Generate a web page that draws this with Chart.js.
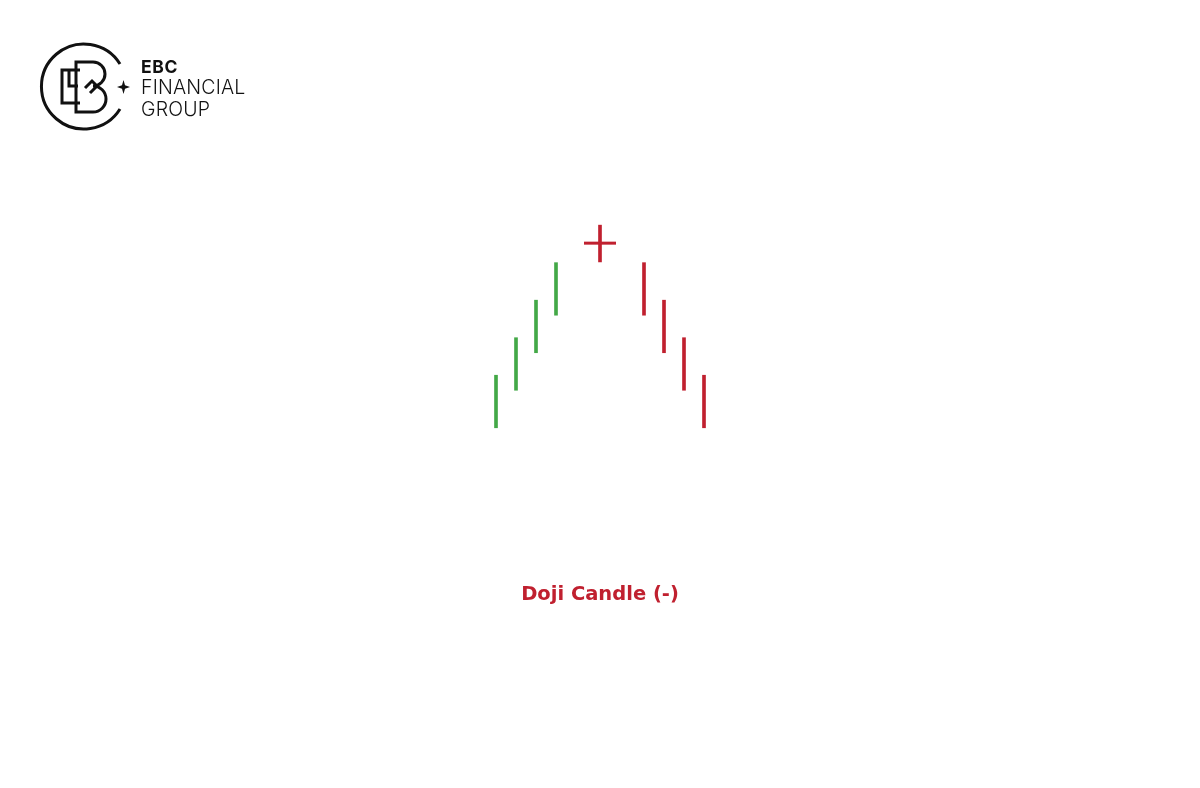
<!DOCTYPE html>
<html>
<head>
<meta charset="utf-8">
<script src="https://cdn.jsdelivr.net/npm/chart.js@4.4.1/dist/chart.umd.min.js"></script>
<style>
  html, body { margin: 0; padding: 0; background: #ffffff; }
  #wrap { position: relative; width: 1200px; height: 788px; overflow: hidden; }
  #chartBox { position: absolute; left: 0; top: 0; width: 1200px; height: 788px; }
  .brand { position: absolute; left: 141px; color: #111; white-space: nowrap; }
  #brandEbc { top: 56px; font: 700 17.5px "Inter", "DejaVu Sans", sans-serif; letter-spacing: 0.6px; }
  #brandFin { top: 75px; font: 300 19.5px "Inter", "DejaVu Sans", sans-serif; letter-spacing: 0.2px; }
  #brandGrp { top: 97px; font: 300 19.5px "Inter", "DejaVu Sans", sans-serif; letter-spacing: 0.2px; }
  #title { position: absolute; left: 0; width: 1200px; top: 582px; text-align: center;
           font: 700 19.5px "DejaVu Sans", Verdana, sans-serif; color: #c0202f; }
</style>
</head>
<body>
<div id="wrap">
  <div id="chartBox"><canvas id="candleChart"></canvas></div>

  <!-- logo mark -->
  <svg id="logo" width="140" height="140" style="position:absolute;left:0;top:0" viewBox="0 0 140 140">
    <g fill="none" stroke="#111" stroke-width="3" stroke-linejoin="miter">
      <path d="M 120 64 A 42.5 42.5 0 1 0 120 109" />
      <path d="M 80 70 H 62 V 103 H 80" />
      <path d="M 69 70 V 86 H 78" />
      <path d="M 76 62 H 93 A 12 12 0 0 1 93 86 A 13 13 0 0 1 93 112 H 76 Z" />
      <path d="M 85 88 L 92 81 L 97 86 L 90 93" />
    </g>
    <path d="M 123.5 80 L 125 85.3 L 130 87 L 125 88.7 L 123.5 94 L 122 88.7 L 117 87 L 122 85.3 Z" fill="#111" />
  </svg>
  <div class="brand" id="brandEbc">EBC</div>
  <div class="brand" id="brandFin">FINANCIAL</div>
  <div class="brand" id="brandGrp">GROUP</div>

  <div id="title">Doji Candle (-)</div>
</div>

<script>
// candle data (price units), x positions along the session axis
const candleX = [0, 1, 2, 3, 5.2, 7.4, 8.4, 9.4, 10.4];
const opens   = [0, 5, 10, 15, 24.6, 22, 17, 12, 7];
const closes  = [7, 12, 17, 22, 24.6, 15, 10, 5, 0];
const highs   = [7, 12, 17, 22, 27, 22, 17, 12, 7];
const lows    = [0, 5, 10, 15, 22.1, 15, 10, 5, 0];

const upColor = '#43a847';
const downColor = '#c0202f';

// colour each candle by its direction, doji counts as bearish here
const candleColors = opens.map((o, i) => closes[i] > o ? upColor : downColor);

const barData = candleX.map((x, i) => ({ x: x, y: [lows[i], highs[i]] }));

// plugin to draw the open/close tick of a doji
const dojiTicks = {
    id: 'dojiTicks',
    afterDatasetsDraw: (chart) => {
        const ctx = chart.ctx;
        const xs = chart.scales.x;
        const ys = chart.scales.y;
        ctx.save();
        ctx.lineWidth = 3;
        opens.forEach((o, i) => {
            if (o !== closes[i]) return;
            const px = xs.getPixelForValue(candleX[i]);
            const py = ys.getPixelForValue(o);
            ctx.strokeStyle = candleColors[i];
            ctx.beginPath();
            ctx.moveTo(px - 16, py);
            ctx.lineTo(px + 16, py);
            ctx.stroke();
        });
        ctx.restore();
    }
};

new Chart(document.getElementById('candleChart'), {
    type: 'bar',
    data: {
        datasets: [{
            data: barData,
            backgroundColor: candleColors,
            borderWidth: 0,
            borderSkipped: false,
            barThickness: 3
        }]
    },
    options: {
        responsive: true,
        maintainAspectRatio: false,
        animation: false,
        layout: { padding: 0 },
        plugins: { legend: { display: false }, tooltip: { enabled: false } },
        scales: {
            x: { type: 'linear', min: -24.8, max: 35.2, offset: false, display: false },
            y: { min: -48, max: 57, display: false }
        }
    },
    plugins: [dojiTicks]
});
</script>
</body>
</html>
